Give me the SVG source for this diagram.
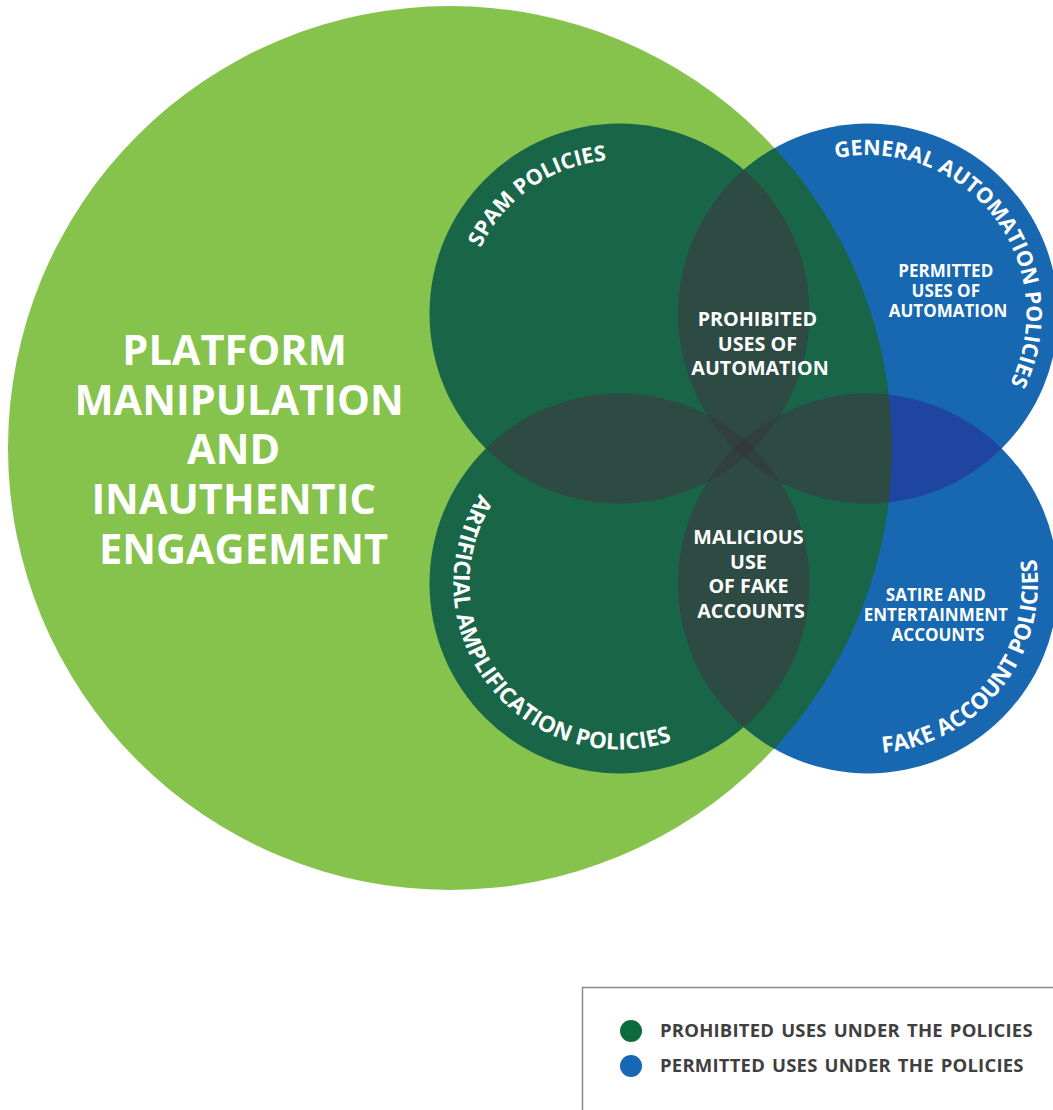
<svg xmlns="http://www.w3.org/2000/svg" width="1053" height="1110" viewBox="0 0 1053 1110">
  <style>
    .t { font-family: "Open Sans", "Liberation Sans", sans-serif; font-weight: 700; fill: #ffffff; text-anchor: middle; }
    .title { font-size: 41.5px; }
    .region { font-size: 19.7px; }
    .permit { font-size: 17px; }
    .arc { font-size: 21.5px; }
    .arc-b { font-size: 22.5px; }
    .legend-text { font-family: "Open Sans", "Liberation Sans", sans-serif; font-weight: 700; font-size: 18.5px; fill: #3f3f3f; letter-spacing: 0.2px; word-spacing: 2px; }
  </style>
  <defs>
    <clipPath id="cBig"><circle cx="450" cy="448" r="442"/></clipPath>
    <clipPath id="cSpam"><circle cx="619.5" cy="313.5" r="190"/></clipPath>
    <clipPath id="cAuto"><circle cx="868" cy="313.5" r="190"/></clipPath>
    <clipPath id="cAmp"><circle cx="619.5" cy="583.5" r="190"/></clipPath>
    <clipPath id="cFake"><circle cx="868" cy="583.5" r="190"/></clipPath>
    <!-- baselines for the curved circle labels -->
    <path id="arcSpam" d="M486.3,389.8 A153.5,153.5 0 0 1 737.4,215.2"/>
    <path id="arcAuto" d="M782.3,180.2 A158.5,158.5 0 0 1 975.6,429.9"/>
    <path id="arcAmp" d="M506.6,461.8 A166,166 0 0 0 709.5,723.0"/>
    <path id="arcFake" d="M774.4,725.4 A170,170 0 0 0 984.8,460.0"/>
  </defs>

  <!-- outer set -->
  <g id="platform-manipulation">
    <circle cx="450" cy="448" r="442" fill="#85C34C"/>
    <text class="t title">
      <tspan x="240" y="365">PLATFORM</tspan>
      <tspan x="244.5" y="414.5">MANIPULATION</tspan>
      <tspan x="239" y="464">AND</tspan>
      <tspan x="239" y="514">INAUTHENTIC</tspan>
      <tspan x="243.5" y="563.5">ENGAGEMENT</tspan>
    </text>
  </g>

  <g id="spam-policies">
    <circle cx="619.5" cy="313.5" r="190" fill="#186548"/>
    <text class="t arc"><textPath href="#arcSpam" startOffset="50%">SPAM POLICIES</textPath></text>
  </g>

  <g id="artificial-amplification-policies">
    <circle cx="619.5" cy="583.5" r="190" fill="#186548"/>
    <text class="t arc-b"><textPath href="#arcAmp" startOffset="50%">ARTIFICIAL AMPLIFICATION POLICIES</textPath></text>
  </g>

  <g id="general-automation-policies">
    <circle cx="868" cy="313.5" r="190" fill="#1767B1"/>
    <g clip-path="url(#cBig)"><circle cx="868" cy="313.5" r="190" fill="#186548"/></g>
    <text class="t arc"><textPath href="#arcAuto" startOffset="50%">GENERAL AUTOMATION POLICIES</textPath></text>
  </g>

  <g id="fake-account-policies">
    <circle cx="868" cy="583.5" r="190" fill="#1767B1"/>
    <g clip-path="url(#cBig)"><circle cx="868" cy="583.5" r="190" fill="#186548"/></g>
    <text class="t arc-b"><textPath href="#arcFake" startOffset="50%">FAKE ACCOUNT POLICIES</textPath></text>
  </g>

  <!-- intersections of the policy circles -->
  <g id="overlaps">
    <g clip-path="url(#cAuto)"><circle cx="868" cy="583.5" r="190" fill="#1E46A0"/></g>
    <g clip-path="url(#cBig)">
      <g clip-path="url(#cSpam)">
        <circle cx="868" cy="313.5" r="190" fill="#2D4A43"/>
        <circle cx="619.5" cy="583.5" r="190" fill="#2D4A43"/>
      </g>
      <g clip-path="url(#cFake)">
        <circle cx="868" cy="313.5" r="190" fill="#2D4A43"/>
        <circle cx="619.5" cy="583.5" r="190" fill="#2D4A43"/>
      </g>
      <g clip-path="url(#cSpam)"><circle cx="868" cy="583.5" r="190" fill="#313F3E"/></g>
      <g clip-path="url(#cAuto)"><circle cx="619.5" cy="583.5" r="190" fill="#313F3E"/></g>
      <g clip-path="url(#cSpam)"><g clip-path="url(#cFake)"><g clip-path="url(#cAuto)">
        <circle cx="619.5" cy="583.5" r="190" fill="#33393B"/>
      </g></g></g>
    </g>
  </g>

  <!-- labels of the overlap regions -->
  <g id="prohibited-uses-of-automation">
    <text class="t region">
      <tspan x="760" y="326">PROHIBITED</tspan>
      <tspan x="760" y="350.5">USES OF</tspan>
      <tspan x="760" y="375">AUTOMATION</tspan>
    </text>
  </g>
  <g id="permitted-uses-of-automation">
    <text class="t permit">
      <tspan x="948" y="277">PERMITTED</tspan>
      <tspan x="948" y="297">USES OF</tspan>
      <tspan x="948" y="317">AUTOMATION</tspan>
    </text>
  </g>
  <g id="malicious-use-of-fake-accounts">
    <text class="t region">
      <tspan x="751" y="544">MALICIOUS</tspan>
      <tspan x="751" y="568.5">USE</tspan>
      <tspan x="751" y="593">OF FAKE</tspan>
      <tspan x="751" y="617.5">ACCOUNTS</tspan>
    </text>
  </g>
  <g id="satire-and-entertainment-accounts">
    <text class="t permit">
      <tspan x="938" y="601">SATIRE AND</tspan>
      <tspan x="938" y="621">ENTERTAINMENT</tspan>
      <tspan x="938" y="641">ACCOUNTS</tspan>
    </text>
  </g>

  <!-- key -->
  <g id="legend">
    <rect x="582.5" y="987.5" width="520" height="200" fill="#ffffff" stroke="#8a8a8a" stroke-width="1.5"/>
    <circle cx="631" cy="1031" r="11" fill="#0C6B3A"/>
    <text class="legend-text" x="660" y="1037">PROHIBITED USES UNDER THE POLICIES</text>
    <circle cx="631" cy="1066" r="11" fill="#1768B4"/>
    <text class="legend-text" x="660" y="1072">PERMITTED USES UNDER THE POLICIES</text>
  </g>
</svg>
